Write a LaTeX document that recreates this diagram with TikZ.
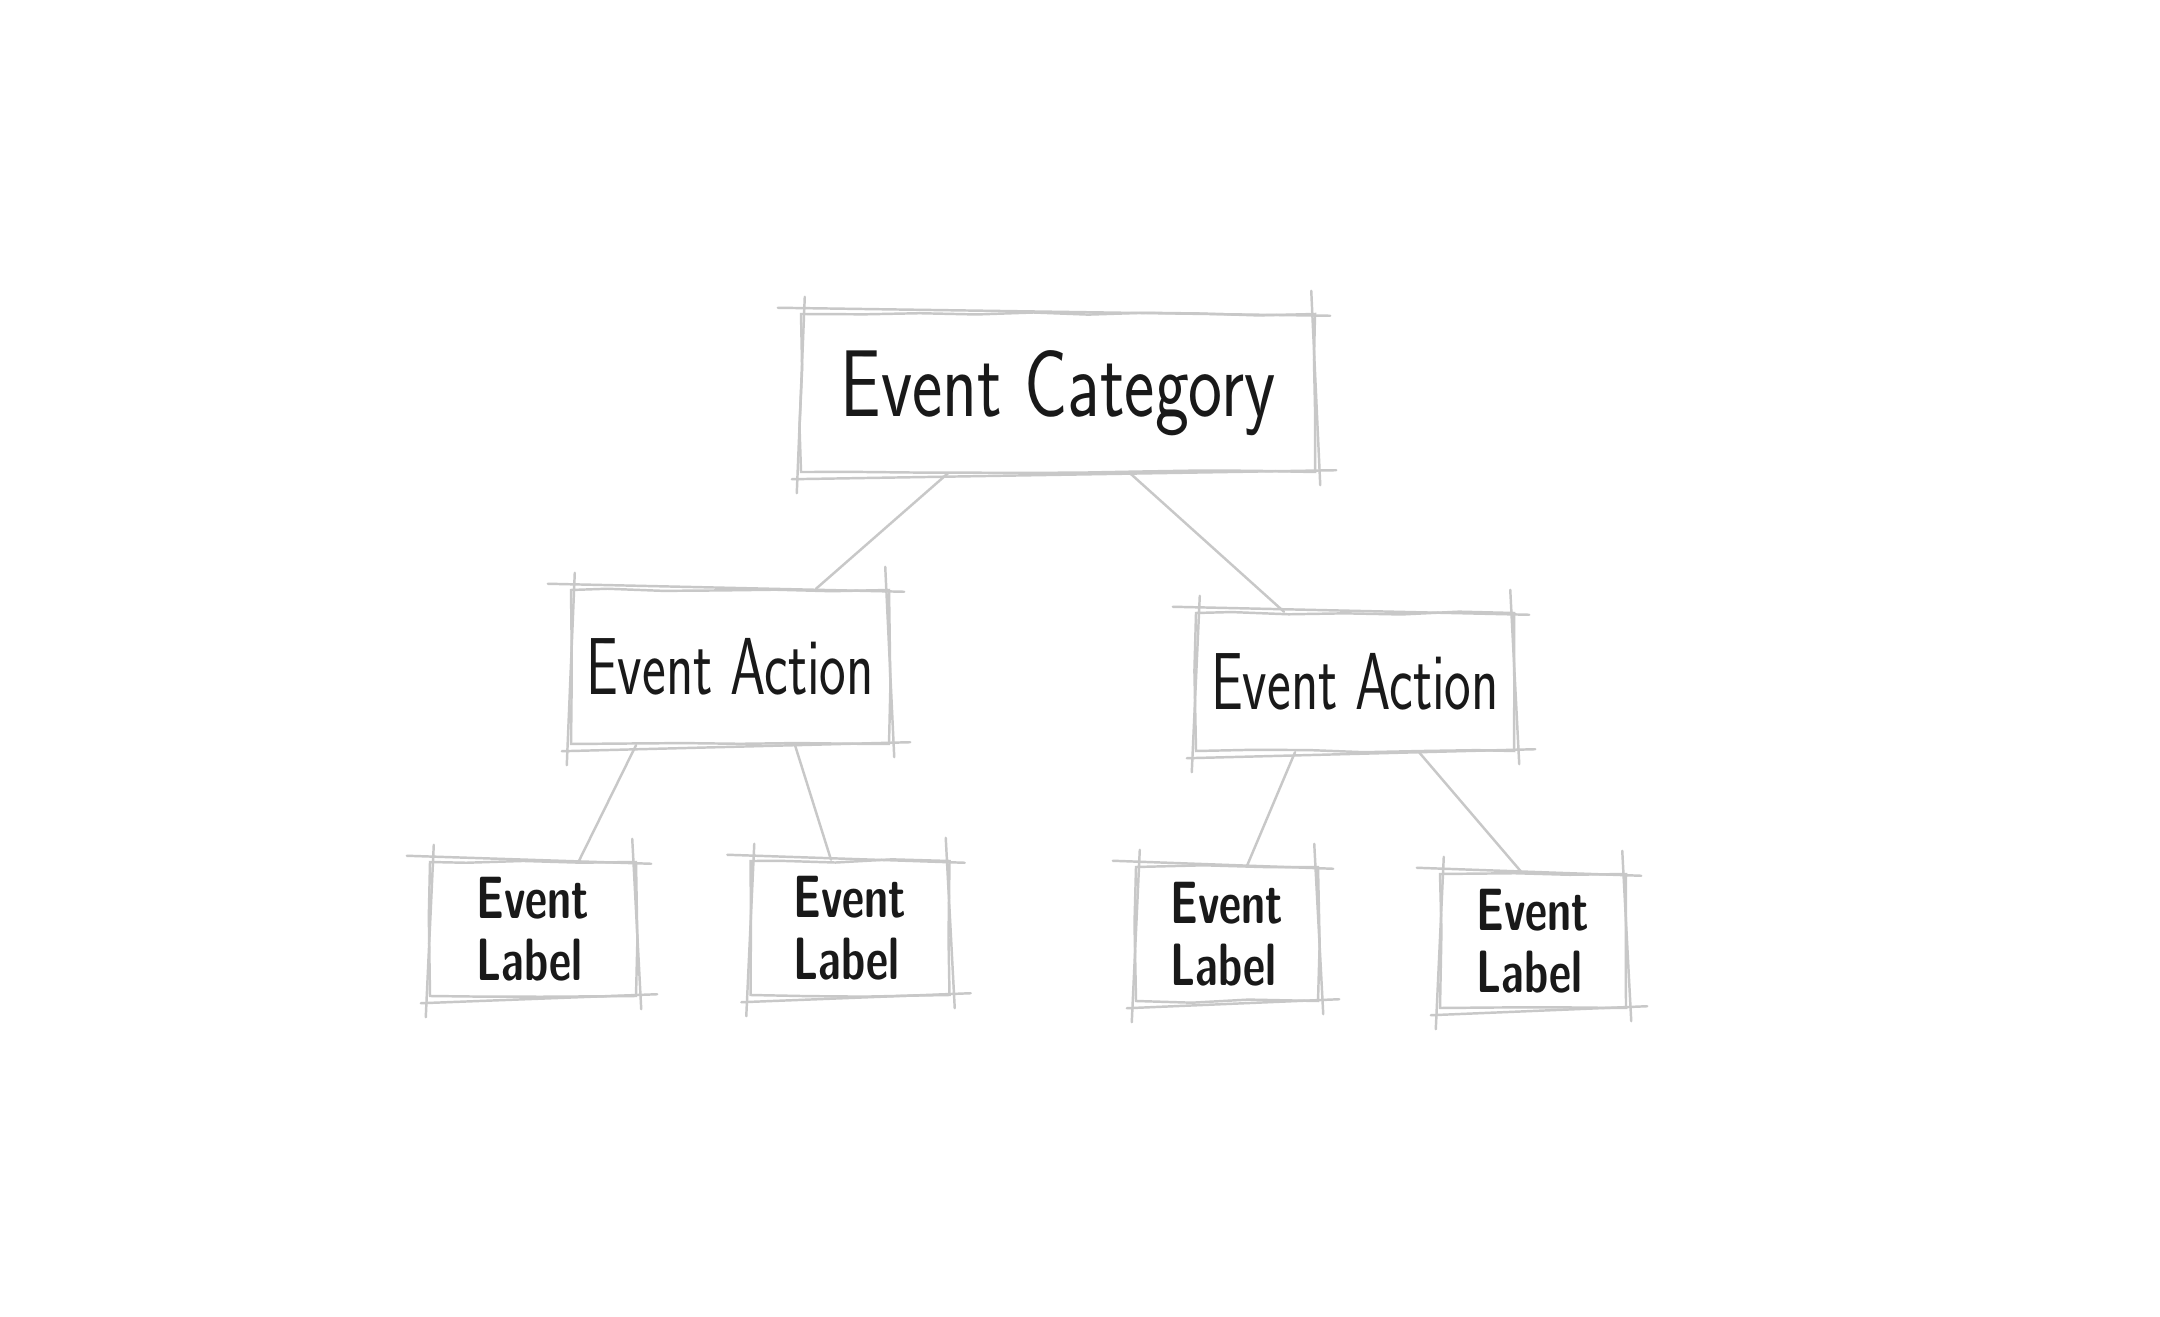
\documentclass[tikz,border=0pt]{standalone}
\usepackage{fontspec}
\usepackage{graphicx}
\usetikzlibrary{decorations.pathmorphing}
\definecolor{pencil}{RGB}{200,200,200}
\definecolor{ink}{RGB}{25,25,25}
\newcommand{\squeeze}[2][0.72]{\scalebox{#1}[1]{#2}}

\begin{document}
\begin{tikzpicture}[
  stroke/.style={draw=pencil, line width=0.7pt, line cap=round},
  box/.style={stroke, rectangle, inner sep=0pt, text=ink, decorate,
    decoration={random steps, segment length=16pt, amplitude=0.5pt}},
  catbox/.style={box, minimum width=5.14cm, minimum height=1.58cm,
    font=\sffamily\fontsize{27}{30}\selectfont},
  actbox/.style={box, minimum width=3.18cm, font=\sffamily\fontsize{23}{26}\selectfont},
  labbox/.style={box, align=left, minimum height=1.34cm,
    font=\sffamily\bfseries\fontsize{17}{17.5}\selectfont}
]
\pgfmathsetseed{11}
\useasboundingbox[fill=white] (0,0) rectangle (21.6,13.16);

% the tree
\node[catbox] (cat) at (10.58,9.23) {\squeeze[0.76]{Event Category}};

\node[actbox, minimum height=1.54cm] (actL) at (7.30,6.49) {\squeeze[0.7]{Event Action}};
\node[actbox, minimum height=1.38cm] (actR) at (13.55,6.34) {\squeeze[0.7]{Event Action}};

\node[labbox, minimum width=2.06cm] (lab1) at (5.33,3.87) {\squeeze{Event}\\\squeeze{Label}};
\node[labbox, minimum width=1.99cm] (lab2) at (8.50,3.88) {\squeeze{Event}\\\squeeze{Label}};
\node[labbox, minimum width=1.82cm] (lab3) at (12.27,3.82) {\squeeze{Event}\\\squeeze{Label}};
\node[labbox, minimum width=1.86cm] (lab4) at (15.33,3.75) {\squeeze{Event}\\\squeeze{Label}};

% second pencil pass round every box
\foreach \n in {cat,actL,actR,lab1,lab2,lab3,lab4}
{
\draw[stroke] ([shift={(-0.22,0.05)}]\n.north west) -- ([shift={(0.14,-0.03)}]\n.north east);
\draw[stroke] ([shift={(-0.08,-0.06)}]\n.south west) -- ([shift={(0.2,0.03)}]\n.south east);
\draw[stroke] ([shift={(0.05,0.16)}]\n.north west) -- ([shift={(-0.03,-0.2)}]\n.south west);
\draw[stroke] ([shift={(-0.05,0.22)}]\n.north east) -- ([shift={(0.04,-0.12)}]\n.south east);
}

% connectors
\draw[stroke] ([xshift=-1.1cm]cat.south) -- ([xshift=0.86cm]actL.north);
\draw[stroke] ([xshift=0.72cm]cat.south) -- ([xshift=-0.71cm]actR.north);
\draw[stroke] ([xshift=-0.94cm]actL.south) -- ([xshift=0.46cm]lab1.north);
\draw[stroke] ([xshift=0.65cm]actL.south) -- ([xshift=-0.19cm]lab2.north);
\draw[stroke] ([xshift=-0.60cm]actR.south) -- ([xshift=0.20cm]lab3.north);
\draw[stroke] ([xshift=0.64cm]actR.south) -- ([xshift=-0.11cm]lab4.north);
\end{tikzpicture}
\end{document}
